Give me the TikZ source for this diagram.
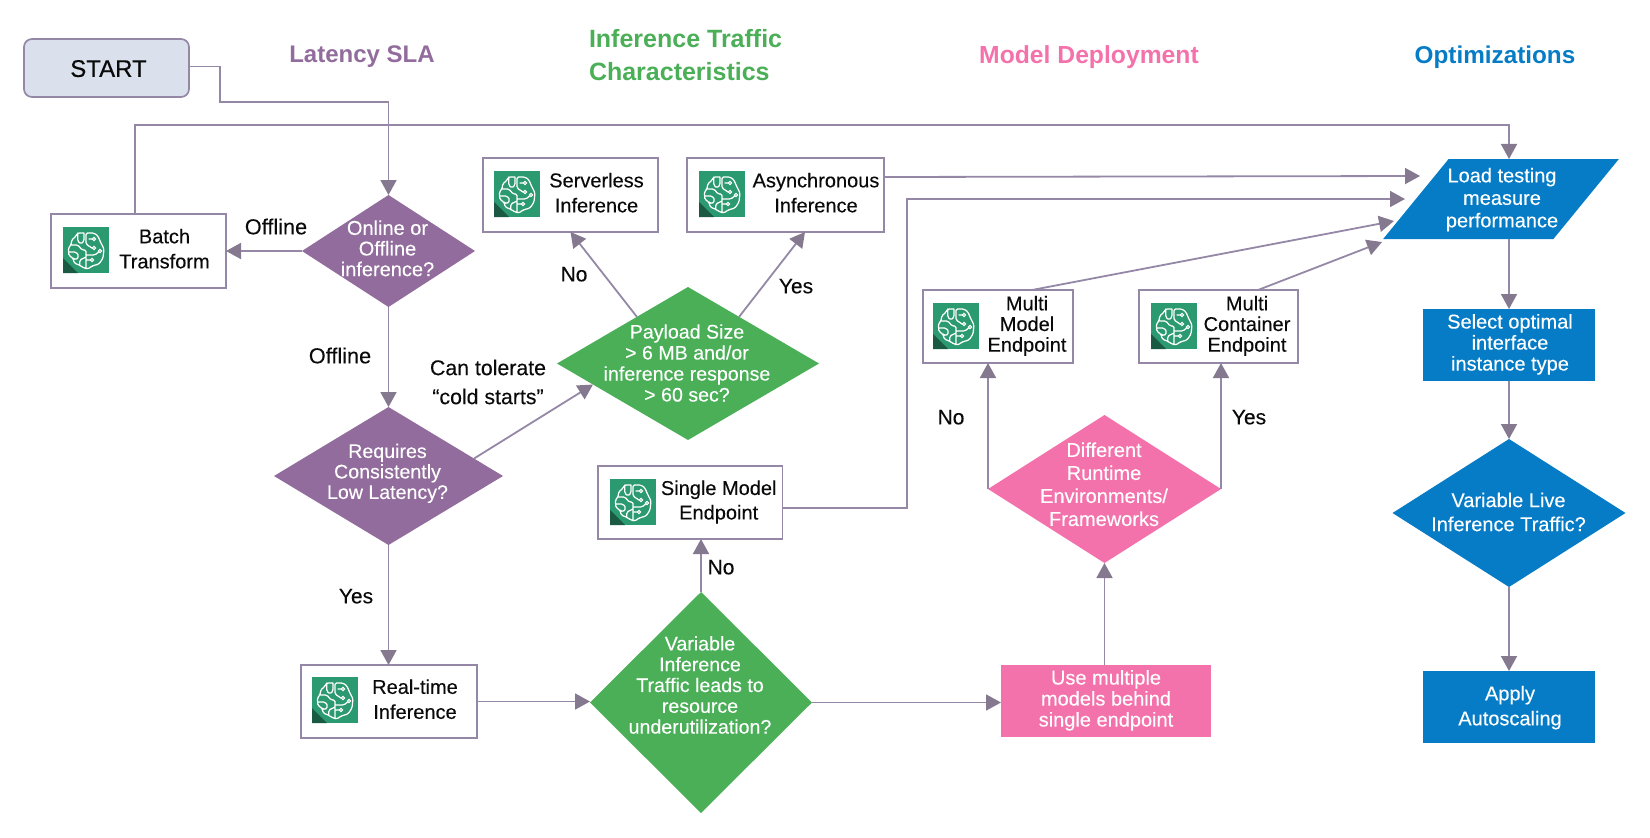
\documentclass[tikz,border=0pt]{standalone}
\usepackage{fontspec}
\setmainfont{Liberation Sans}
\usetikzlibrary{arrows.meta,shapes.geometric,calc}
\definecolor{purp}{HTML}{916C9C}
\definecolor{grn}{HTML}{4AAF57}
\definecolor{pnk}{HTML}{F472AB}
\definecolor{blu}{HTML}{067CC6}
\definecolor{startfill}{HTML}{DAE1EC}
\definecolor{edge}{HTML}{9488A6}
\definecolor{tip}{HTML}{85798F}
\definecolor{icongreen}{HTML}{2C9A70}
\definecolor{icondark}{HTML}{1B5A42}
\definecolor{ink}{HTML}{0A0A0A}
% zero-size text block: #1 size, #2 baseline skip, #3 dx, #4 dy, #5 lines
\newcommand\ztext[5]{\fontsize{#1}{#2}\selectfont\addfontfeature{FakeBold=0.2}\smash{\makebox[0pt][c]{\hspace*{\dimexpr 2\dimexpr #3pt\relax\relax}\raisebox{\dimexpr #4pt - 6.5pt\relax}{\begin{tabular}{@{}c@{}}#5\end{tabular}}}}}
\tikzset{
  sz/.style 2 args={minimum width=#1pt,minimum height=#2pt,inner sep=0pt,outer sep=0pt},
  conn/.style={draw=edge,line width=1.8pt,-{Triangle[length=15pt,width=16pt,fill=tip,color=tip]}},
  imgbox/.style={rectangle,draw=edge,line width=1.7pt,fill=white,text=ink},
  startbox/.style={rectangle,rounded corners=8pt,draw=edge,line width=1.7pt,fill=startfill,text=ink},
  dia/.style={diamond,fill=#1,text=white},
  flat/.style={rectangle,fill=#1,text=white},
  edgelabel/.style={inner sep=0pt,outer sep=0pt,text=ink},
  header/.style={inner sep=0pt,outer sep=0pt,font=\fontsize{24}{32.7}\selectfont\bfseries,text=#1},
  brainicon/.pic={
    \fill[icongreen] (0,0) rectangle (46,46);
    \fill[icondark] (0,31) -- (15,46) -- (0,46) -- cycle;
    \draw[white,line width=1.25pt,line join=round,line cap=round,rounded corners=1.5pt]
      (21,6) -- (14.7,6) -- (12.3,10) -- (8.8,12.7) -- (8,18) -- (5.3,21) -- (6,28.7) -- (10,31) -- (11.2,36) -- (16.8,38.3) -- (21,41) -- (25,42) -- (29,39) -- (36,37) -- (40,31) -- (41,22) -- (37,14) -- (35,9) -- (31,6) -- (23,6) -- (23,17) -- (29,21)
      (14.7,6) -- (14.7,14) -- (18,17) -- (21,14) -- (21,6)
      (8,18) -- (15,18) -- (19,23) -- (23,23) -- (23,41)
      (6,25) -- (13,25) -- (16,29) -- (13,33) -- (10,31)
      (16.8,38) -- (16.8,33) -- (23,30)
      (26,12) -- (29.5,12)
      (35.6,25) -- (32,28) -- (23,28)
      (27.5,33) -- (23,33);
    \draw[white,line width=1pt] (31,21) circle (1.6pt) (31,12) circle (1.6pt) (37,24) circle (1.6pt) (29,33) circle (1.6pt);
  }
}
\begin{document}
\begin{tikzpicture}[x=1pt,y=-1pt]
\useasboundingbox (0,0) rectangle (1650,838);

% headers
\node[header=purp] (hlat) at (362,57) {Latency SLA};
\node[header=grn,anchor=west,align=left,font=\fontsize{25}{33.5}\selectfont\bfseries] (hinf) at (589,55) {Inference Traffic\\Characteristics};
\node[header=pnk,font=\fontsize{24.7}{32.7}\selectfont\bfseries] (hmod) at (1089,57) {Model Deployment};
\node[header=blu,font=\fontsize{24.3}{32.7}\selectfont\bfseries] (hopt) at (1495,57) {Optimizations};

% start and purple column
\node[startbox,sz={165}{58}] (start) at (106.5,68) {\ztext{24}{28}{2}{-3}{\addfontfeature{FakeBold=0.5}START}};
\node[dia=purp,sz={173}{112}] (online) at (388.5,251) {\ztext{20}{20.5}{-1}{1}{Online or\\Offline\\inference?}};
\node[dia=purp,sz={229}{138}] (req) at (388.5,476) {\ztext{19.6}{20.5}{-1}{3}{Requires\\Consistently\\Low Latency?}};
\node[imgbox,sz={175}{74}] (batch) at (138.5,251) {\ztext{20}{25}{26}{1.5}{Batch\\Transform}};
\node[imgbox,sz={176}{73}] (rt) at (389,701.5) {\ztext{20}{25}{26}{1.5}{Real-time\\Inference}};

% green column
\node[dia=grn,sz={262}{153}] (payload) at (688,363.5) {\ztext{19.6}{21}{-1}{-1}{Payload Size\\> 6 MB and/or\\inference response\\> 60 sec?}};
\node[dia=grn,sz={222}{221}] (var) at (701,702.5) {\ztext{19.6}{20.8}{-1}{16}{Variable\\Inference\\Traffic leads to\\resource\\underutilization?}};
\node[imgbox,sz={175}{74}] (serverless) at (570.5,195) {\ztext{20}{25}{26}{1.5}{Serverless\\Inference}};
\node[imgbox,sz={197}{74}] (async) at (785.5,195) {\ztext{20}{25}{30.5}{1.5}{Asynchronous\\Inference}};
\node[imgbox,sz={184.5}{73}] (single) at (690.2,502.5) {\ztext{20}{24.5}{28.5}{1.5}{Single Model\\Endpoint}};

% pink column
\node[dia=pnk,sz={233}{148}] (diff) at (1104.5,489) {\ztext{20}{23}{-0.5}{3.5}{Different\\Runtime\\Environments/\\Frameworks}};
\node[flat=pnk,sz={210}{72}] (use) at (1106,701) {\ztext{20}{21}{0}{1}{Use multiple\\models behind\\single endpoint}};
\node[imgbox,sz={150}{73}] (mm) at (998,326.5) {\ztext{20}{20.5}{29}{1}{Multi\\Model\\Endpoint}};
\node[imgbox,sz={159}{73}] (mc) at (1218.5,326.5) {\ztext{20}{20.5}{28.5}{1}{Multi\\Container\\Endpoint}};

% blue column
\node[trapezium,trapezium left angle=58,trapezium right angle=122,trapezium stretches=true,fill=blu,text=white,sz={236}{80}] (load) at (1501,199) {\makebox[10pt][c]{\rule{0pt}{10pt}\ztext{20}{22.5}{1}{5}{Load testing\\measure\\performance}}};
\node[flat=blu,sz={172}{72}] (select) at (1509,345) {\ztext{20}{21}{1}{1}{Select optimal\\interface\\instance type}};
\node[dia=blu,sz={233}{148}] (live) at (1509,513) {\ztext{20}{24}{-0.5}{0}{Variable Live\\Inference Traffic?}};
\node[flat=blu,sz={172}{72}] (apply) at (1509,707) {\ztext{20}{25}{1}{0.5}{Apply\\Autoscaling}};

% icons
\pic at (63,227) {brainicon};
\pic at (312,677) {brainicon};
\pic at (494,171) {brainicon};
\pic at (699,171) {brainicon};
\pic at (610,479) {brainicon};
\pic at (933,303) {brainicon};
\pic at (1151,303) {brainicon};

% free ends of connectors
\coordinate (startbend) at (220,102);
\coordinate (singlebend) at (907,199);
\coordinate (loadin1) at (1420,176);
\coordinate (loadin2) at (1405,199);
\coordinate (loadin3) at (1394,221);
\coordinate (loadin4) at (1382,242);

% connectors
\draw[conn] ([yshift=1.5pt]start.east) -| (startbend) -| (online.north);
\draw[conn] ([xshift=-3.5pt]batch.north) |- ([xshift=8pt,yshift=34pt]load.north) -- ([xshift=8pt]load.north);
\draw[conn] (online.west) -- (batch.east);
\draw[conn] (online.south) -- (req.north);
\draw[conn] (req.south) -- (req.south |- rt.north);
\draw[conn] ($(req.north)!.747!(req.east)$) -- ($(payload.west)!.275!(payload.south)$);
\draw[conn] ($(payload.north)!.39!(payload.west)$) -- (serverless.south);
\draw[conn] ($(payload.north)!.39!(payload.east)$) -- ([xshift=19.5pt]async.south);
\draw[conn] ([yshift=18pt]async.east) -- (loadin1);
\draw[conn] (rt.east) -- (rt.east -| var.west);
\draw[conn] (var.north) -- (var.north |- single.south);
\draw[conn] ([yshift=-5.5pt]single.east) -| (singlebend) -- (loadin2);
\draw[conn] (var.east) -- (var.east -| use.west);
\draw[conn] (use.north -| diff.south) -- (diff.south);
\draw[conn] (diff.west) -- (diff.west |- mm.south);
\draw[conn] (diff.east) -- (diff.east |- mc.south);
\draw[conn] ([xshift=34pt]mm.north) -- (loadin3);
\draw[conn] ([xshift=39.5pt]mc.north) -- (loadin4);
\draw[conn] ([xshift=8pt]load.south) -- (select.north);
\draw[conn] (select.south) -- (live.north);
\draw[conn] (live.south) -- (apply.north);

% edge labels
\node[edgelabel] (l1) at (276,228) {\ztext{21.7}{25}{0}{0}{Offline}};
\node[edgelabel] (l2) at (340,357) {\ztext{21.7}{25}{0}{0}{Offline}};
\node[edgelabel] (l3) at (488,383.5) {\ztext{21.3}{29}{0}{1}{Can tolerate\\“cold starts”}};
\node[edgelabel] (l4) at (574,275) {\ztext{21}{25}{0}{0}{No}};
\node[edgelabel] (l5) at (796,287) {\ztext{21}{25}{0}{0}{Yes}};
\node[edgelabel] (l6) at (356,597) {\ztext{21}{25}{0}{0}{Yes}};
\node[edgelabel] (l7) at (721,568) {\ztext{21}{25}{0}{0}{No}};
\node[edgelabel] (l8) at (951,418) {\ztext{21}{25}{0}{0}{No}};
\node[edgelabel] (l9) at (1249,418) {\ztext{21}{25}{0}{0}{Yes}};
\end{tikzpicture}
\end{document}
